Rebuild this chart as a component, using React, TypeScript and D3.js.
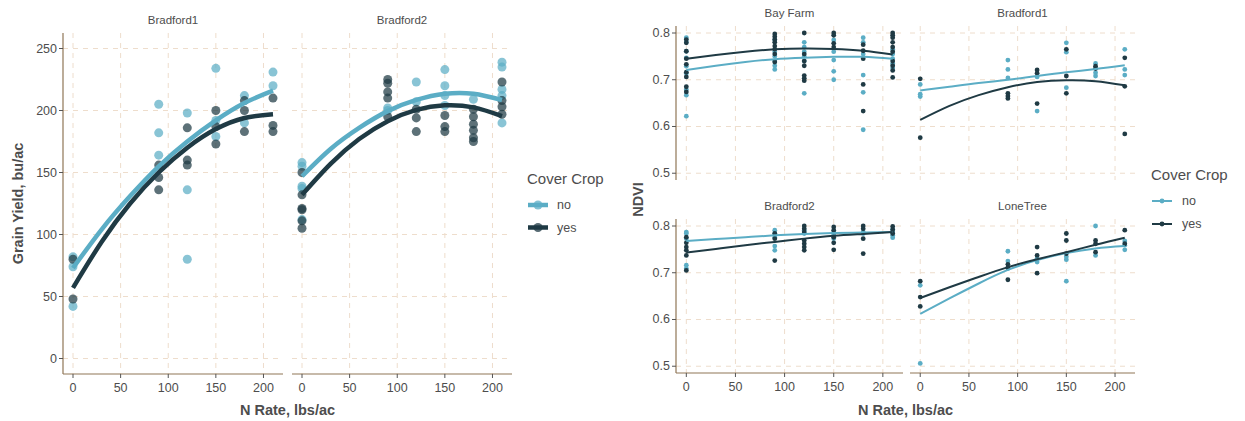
import React from "react";
import * as d3 from "d3";

// ---------- DATA ----------
const nRates = [0, 30, 60, 90, 120, 150, 180, 210];
const xTicks = [0, 50, 100, 150, 200];
const yieldTicks = [0, 50, 100, 150, 200, 250];
const ndviTicks = [0.5, 0.6, 0.7, 0.8];
const coverLevels = ["no", "yes"];

// Grain yield points [N rate, yield]
const yB1No = [[0,82],[0,74],[0,42],[90,205],[90,182],[90,164],[120,198],[120,136],[120,80],[150,234],[150,192],[150,179],[180,212],[180,190],[210,231],[210,220]];
const yB1Yes = [[0,80],[0,48],[90,156],[90,146],[90,136],[120,186],[120,160],[120,156],[150,200],[150,187],[150,173],[180,208],[180,200],[180,183],[210,210],[210,188],[210,183]];
const yB2No = [[0,158],[0,155],[0,139],[0,137],[0,112],[90,202],[90,200],[120,223],[120,207],[150,233],[150,220],[150,212],[150,204],[180,209],[210,239],[210,235],[210,217],[210,212],[210,190]];
const yB2Yes = [[0,150],[0,132],[0,121],[0,120],[0,111],[0,105],[90,225],[90,222],[90,215],[90,210],[90,195],[120,201],[120,194],[120,183],[150,196],[150,187],[150,183],[180,201],[180,195],[180,189],[180,184],[180,178],[180,175],[210,223],[210,208],[210,203],[210,197]];

// Grain yield smooth curves at nRates
const yFitB1No = [73,104,131,155,175,192,206,216];
const yFitB1Yes = [57,94,125,150,170,185,194,197];
const yFitB2No = [147,169,186,199.5,208.5,213.5,213.5,208.5];
const yFitB2Yes = [132,157,177,191.4,200.5,204.2,202.5,195.5];

// NDVI points
const nBayNo = [[0,.790],[0,.781],[0,.761],[0,.747],[0,.729],[0,.714],[0,.679],[0,.667],[0,.622],[90,.785],[90,.760],[90,.750],[90,.740],[90,.730],[90,.722],[120,.780],[120,.770],[120,.760],[120,.750],[120,.740],[120,.671],[150,.785],[150,.760],[150,.742],[150,.718],[150,.700],[180,.790],[180,.780],[180,.755],[180,.710],[180,.673],[180,.593],[210,.765],[210,.755],[210,.745],[210,.735],[210,.725]];
const nBayYes = [[0,.786],[0,.779],[0,.761],[0,.745],[0,.733],[0,.716],[0,.706],[0,.685],[0,.674],[90,.798],[90,.792],[90,.786],[90,.780],[90,.772],[90,.765],[90,.755],[90,.738],[120,.800],[120,.755],[120,.740],[120,.730],[120,.709],[120,.703],[120,.698],[150,.800],[150,.795],[150,.778],[150,.770],[180,.775],[180,.762],[180,.745],[180,.690],[180,.633],[210,.800],[210,.795],[210,.790],[210,.780],[210,.770],[210,.760],[210,.740],[210,.730],[210,.720],[210,.705]];
const nB1No = [[0,.690],[0,.669],[0,.664],[90,.742],[90,.722],[90,.704],[120,.706],[120,.633],[150,.779],[150,.759],[150,.683],[180,.735],[180,.715],[180,.708],[210,.765],[210,.722],[210,.710]];
const nB1Yes = [[0,.702],[0,.576],[90,.671],[90,.665],[90,.660],[120,.721],[120,.714],[120,.649],[150,.765],[150,.708],[150,.671],[180,.729],[180,.724],[210,.747],[210,.686],[210,.584]];
const nB2No = [[0,.787],[0,.784],[0,.773],[0,.716],[0,.709],[90,.791],[90,.784],[90,.776],[90,.757],[90,.748],[120,.791],[120,.784],[150,.787],[150,.781],[150,.773],[180,.787],[180,.784],[210,.793],[210,.787],[210,.780],[210,.775]];
const nB2Yes = [[0,.776],[0,.764],[0,.755],[0,.748],[0,.737],[0,.705],[90,.784],[90,.773],[90,.726],[120,.800],[120,.794],[120,.787],[120,.769],[120,.762],[120,.755],[120,.748],[150,.798],[150,.791],[150,.776],[150,.764],[150,.749],[180,.800],[180,.794],[180,.773],[180,.741],[210,.799],[210,.792],[210,.784]];
const nLTNo = [[0,.673],[0,.506],[90,.746],[90,.725],[90,.709],[120,.730],[120,.723],[150,.734],[150,.728],[150,.682],[180,.800],[180,.737],[210,.768],[210,.759],[210,.749]];
const nLTYes = [[0,.682],[0,.648],[0,.628],[90,.718],[90,.711],[90,.685],[120,.755],[120,.737],[120,.699],[150,.784],[150,.769],[150,.741],[180,.769],[180,.762],[180,.744],[210,.791],[210,.762]];

// NDVI smooth curves at nRates
const nFitBayNo = [.721,.730,.738,.744,.747,.749,.749,.745];
const nFitBayYes = [.745,.753,.760,.765,.767,.766,.762,.754];
const nFitB1No = [.677,.685,.693,.700,.708,.716,.723,.731];
const nFitB1Yes = [.614,.644,.667,.684,.695,.699,.697,.688];
const nFitB2No = [.768,.772,.776,.780,.783,.785,.786,.787];
const nFitB2Yes = [.743,.751,.759,.766,.773,.779,.783,.787];
const nFitLTNo = [.612,.645,.677,.706,.727,.742,.752,.757];
const nFitLTYes = [.646,.669,.691,.712,.729,.744,.760,.775];

// ---------- STYLE ----------
const FONT = "'Liberation Sans', Arial, Helvetica, sans-serif";
const C_NO = "#5BADC5";
const C_YES = "#1F3A44";
const GRID = "#EEDDCC";
const AXIS = "#8F7656";
const TXT = "#4D4D4D";

type Pt = number[];
interface PanelDef {
  title: string;
  x0: number; x1: number; y0: number; y1: number;
  yDomain: [number, number];
  yTicks: number[];
  fmt: (v: number) => string;
  leftAxis: boolean;
  bottomAxis: boolean;
  no: Pt[]; yes: Pt[];
  fitNo: number[]; fitYes: number[];
  r: number; opacity: number; lw: number;
  stripY: number;
}

function Panel({ p }: { p: PanelDef }) {
  const x = d3.scaleLinear().domain([-10.5, 220.5]).range([p.x0, p.x1]);
  const y = d3.scaleLinear().domain(p.yDomain).range([p.y1, p.y0]);
  const line = d3.line<number>()
    .x((_, i) => x(nRates[i]))
    .y((v) => y(v))
    .curve(d3.curveNatural);
  return (
    <g>
      {xTicks.map((t) => (
        <line key={"gx" + t} x1={x(t)} x2={x(t)} y1={p.y0} y2={p.y1} stroke={GRID} strokeWidth={1} strokeDasharray="5,5" />
      ))}
      {p.yTicks.map((t) => (
        <line key={"gy" + t} x1={p.x0} x2={p.x1} y1={y(t)} y2={y(t)} stroke={GRID} strokeWidth={1} strokeDasharray="5,5" />
      ))}
      <text x={(p.x0 + p.x1) / 2} y={p.stripY} textAnchor="middle" dominantBaseline="central" fontFamily={FONT} fontSize={11.5} fill={TXT}>{p.title}</text>
      {p.no.map((d, i) => (
        <circle key={"pn" + i} cx={x(d[0])} cy={y(d[1])} r={p.r} fill={C_NO} fillOpacity={p.opacity} />
      ))}
      {p.yes.map((d, i) => (
        <circle key={"py" + i} cx={x(d[0])} cy={y(d[1])} r={p.r} fill={C_YES} fillOpacity={p.opacity} />
      ))}
      <path d={line(p.fitNo) || ""} fill="none" stroke={C_NO} strokeWidth={p.lw} />
      <path d={line(p.fitYes) || ""} fill="none" stroke={C_YES} strokeWidth={p.lw} />
      {p.leftAxis && (
        <g>
          <line x1={p.x0} x2={p.x0} y1={p.y0} y2={p.y1} stroke={AXIS} strokeWidth={1.2} />
          {p.yTicks.map((t) => (
            <g key={"ty" + t}>
              <line x1={p.x0 - 4} x2={p.x0} y1={y(t)} y2={y(t)} stroke="#555" strokeWidth={1} />
              <text x={p.x0 - 6} y={y(t)} textAnchor="end" dominantBaseline="central" fontFamily={FONT} fontSize={12.5} fill={TXT}>{p.fmt(t)}</text>
            </g>
          ))}
        </g>
      )}
      {p.bottomAxis && (
        <g>
          <line x1={p.x0} x2={p.x1} y1={p.y1} y2={p.y1} stroke={AXIS} strokeWidth={1.2} />
          {xTicks.map((t) => (
            <g key={"tx" + t}>
              <line x1={x(t)} x2={x(t)} y1={p.y1} y2={p.y1 + 4} stroke="#555" strokeWidth={1} />
              <text x={x(t)} y={p.y1 + 14} textAnchor="middle" dominantBaseline="central" fontFamily={FONT} fontSize={12.5} fill={TXT}>{t}</text>
            </g>
          ))}
        </g>
      )}
    </g>
  );
}

function Legend({ x, y, lw, r, big }: { x: number; y: number; lw: number; r: number; big: boolean }) {
  const cols = [C_NO, C_YES];
  const gap = big ? 22.5 : 23;
  return (
    <g>
      <text x={x} y={y} fontFamily={FONT} fontSize={15} fill={TXT} dominantBaseline="central">Cover Crop</text>
      {coverLevels.map((lv, i) => {
        const yy = y + 27 + i * gap;
        return (
          <g key={lv}>
            <line x1={x + 1} x2={x + 21} y1={yy} y2={yy} stroke={cols[i]} strokeWidth={lw} />
            <circle cx={x + 11} cy={yy} r={r} fill={cols[i]} fillOpacity={big ? 0.75 : 1} />
            <text x={x + (big ? 30 : 31)} y={yy} fontFamily={FONT} fontSize={12.5} fill={TXT} dominantBaseline="central">{lv}</text>
          </g>
        );
      })}
    </g>
  );
}

const fmtYield = (v: number) => String(v);
const fmtNdvi = (v: number) => v.toFixed(1);

const leftPanels: PanelDef[] = [
  { title: "Bradford1", x0: 63, x1: 283, y0: 33, y1: 374, yDomain: [-12.5, 262.5], yTicks: yieldTicks, fmt: fmtYield, leftAxis: true, bottomAxis: true, no: yB1No, yes: yB1Yes, fitNo: yFitB1No, fitYes: yFitB1Yes, r: 4.5, opacity: 0.72, lw: 4.5, stripY: 20 },
  { title: "Bradford2", x0: 292, x1: 512, y0: 33, y1: 374, yDomain: [-12.5, 262.5], yTicks: yieldTicks, fmt: fmtYield, leftAxis: false, bottomAxis: true, no: yB2No, yes: yB2Yes, fitNo: yFitB2No, fitYes: yFitB2Yes, r: 4.5, opacity: 0.72, lw: 4.5, stripY: 20 },
];

const ndviDomain: [number, number] = [0.4855, 0.815];
const rightPanels: PanelDef[] = [
  { title: "Bay Farm", x0: 676, x1: 903, y0: 26, y1: 180, yDomain: ndviDomain, yTicks: ndviTicks, fmt: fmtNdvi, leftAxis: true, bottomAxis: false, no: nBayNo, yes: nBayYes, fitNo: nFitBayNo, fitYes: nFitBayYes, r: 2.4, opacity: 1, lw: 2, stripY: 13 },
  { title: "Bradford1", x0: 910, x1: 1135, y0: 26, y1: 180, yDomain: ndviDomain, yTicks: ndviTicks, fmt: fmtNdvi, leftAxis: false, bottomAxis: false, no: nB1No, yes: nB1Yes, fitNo: nFitB1No, fitYes: nFitB1Yes, r: 2.4, opacity: 1, lw: 2, stripY: 13 },
  { title: "Bradford2", x0: 676, x1: 903, y0: 219, y1: 373, yDomain: ndviDomain, yTicks: ndviTicks, fmt: fmtNdvi, leftAxis: true, bottomAxis: true, no: nB2No, yes: nB2Yes, fitNo: nFitB2No, fitYes: nFitB2Yes, r: 2.4, opacity: 1, lw: 2, stripY: 206 },
  { title: "LoneTree", x0: 910, x1: 1135, y0: 219, y1: 373, yDomain: ndviDomain, yTicks: ndviTicks, fmt: fmtNdvi, leftAxis: false, bottomAxis: true, no: nLTNo, yes: nLTYes, fitNo: nFitLTNo, fitYes: nFitLTYes, r: 2.4, opacity: 1, lw: 2, stripY: 206 },
];

export default function App() {
  return (
    <svg width={1245} height={421} style={{ position: "absolute", left: 0, top: 0, background: "#fff" }}>
      <rect x={0} y={0} width={1245} height={421} fill="#fff" />
      {leftPanels.map((p) => <Panel key={"l" + p.title} p={p} />)}
      {rightPanels.map((p) => <Panel key={"r" + p.title + p.y0} p={p} />)}
      <text transform="translate(18,203.5) rotate(-90)" textAnchor="middle" dominantBaseline="central" fontFamily={FONT} fontSize={14.5} fontWeight="bold" fill={TXT}>Grain Yield, bu/ac</text>
      <text x={287.5} y={410} textAnchor="middle" dominantBaseline="central" fontFamily={FONT} fontSize={14.5} fontWeight="bold" fill={TXT}>N Rate, lbs/ac</text>
      <text transform="translate(638,199.5) rotate(-90)" textAnchor="middle" dominantBaseline="central" fontFamily={FONT} fontSize={14.5} fontWeight="bold" fill={TXT}>NDVI</text>
      <text x={905.5} y={410} textAnchor="middle" dominantBaseline="central" fontFamily={FONT} fontSize={14.5} fontWeight="bold" fill={TXT}>N Rate, lbs/ac</text>
      <Legend x={527} y={178} lw={4.5} r={4.5} big={true} />
      <Legend x={1151} y={174} lw={2} r={2.4} big={false} />
    </svg>
  );
}
